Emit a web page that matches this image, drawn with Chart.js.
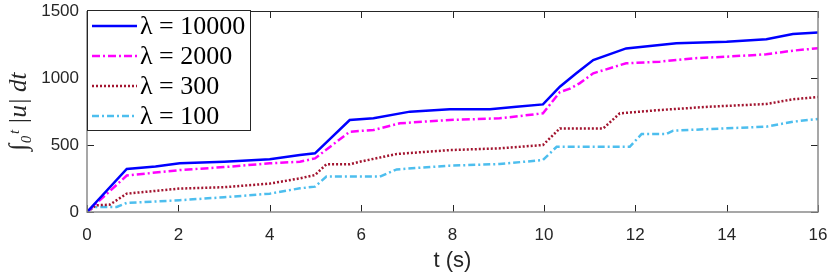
<!DOCTYPE html>
<html>
<head>
<meta charset="utf-8">
<script src="https://cdn.jsdelivr.net/npm/chart.js@4/dist/chart.umd.min.js"></script>
<style>
  html, body { margin: 0; padding: 0; background: #fff; }
  #wrap { width: 830px; height: 278px; }
</style>
</head>
<body>
<div id="wrap"><canvas id="grafico"></canvas></div>
<script>
// valores
const xTicks = [0, 2, 4, 6, 8, 10, 12, 14, 16];
const yTicks = [0, 500, 1000, 1500];
const etiquetas = ["\u03bb = 10000", "\u03bb = 2000", "\u03bb = 300", "\u03bb = 100"];

const t10000 = [0, 0.87, 1.5, 2.03, 3, 4, 4.66, 4.99, 5.75, 6.27, 7.07, 7.94, 8.82, 9.4, 9.98, 10.35, 10.71, 11.08, 11.8, 12.9, 14, 14.87, 15.45, 16];
const v10000 = [0, 321, 340, 363, 375, 393, 425, 438, 686, 699, 749, 766, 766, 786, 803, 935, 1035, 1134, 1221, 1259, 1271, 1289, 1328, 1340];

const t2000 = [0, 0.87, 2.03, 3, 4, 4.66, 4.99, 5.75, 6.27, 6.85, 7.94, 9.03, 9.98, 10.35, 10.57, 10.78, 11.08, 11.8, 12.54, 13.27, 14, 14.87, 15.45, 16];
const v2000 = [0, 272, 313, 335, 363, 375, 400, 599, 612, 662, 687, 699, 736, 895, 920, 960, 1035, 1110, 1122, 1147, 1159, 1177, 1204, 1222];

const t300 = [0, 0.2, 0.5, 0.87, 2.03, 3, 4, 4.66, 4.99, 5.24, 5.75, 5.97, 6.78, 7.94, 9.03, 9.98, 10.35, 11.3, 11.66, 12.54, 13.63, 14.87, 15.45, 16];
const v300 = [0, 50, 55, 137, 175, 185, 212, 251, 276, 356, 356, 375, 433, 462, 475, 500, 624, 624, 736, 761, 786, 806, 841, 858];

const t100 = [0, 0.15, 0.65, 0.87, 2.03, 3, 4, 4.66, 4.99, 5.24, 6.41, 6.78, 7.94, 9.03, 9.98, 10.28, 11.88, 12.14, 12.68, 12.83, 13.63, 14.87, 15.45, 16];
const v100 = [0, 38, 38, 68, 88, 110, 137, 177, 189, 264, 264, 318, 346, 358, 388, 487, 487, 582, 582, 607, 619, 637, 674, 694];

const puntos = (ts, vs) => ts.map((t, i) => ({ x: t, y: vs[i] }));

const series = [
  { label: etiquetas[0], data: puntos(t10000, v10000), borderColor: "#0000ff", borderWidth: 2.5, borderDash: [] },
  { label: etiquetas[1], data: puntos(t2000, v2000), borderColor: "#ff00ff", borderWidth: 2.5, borderDash: [8, 3, 2, 3] },
  { label: etiquetas[2], data: puntos(t300, v300), borderColor: "#a2142f", borderWidth: 2.5, borderDash: [2, 2] },
  { label: etiquetas[3], data: puntos(t100, v100), borderColor: "#4dbeee", borderWidth: 2.5, borderDash: [7, 3, 2, 3] },
].map((s) => ({ ...s, showLine: true, pointRadius: 0, tension: 0, fill: false }));

// caja, marcas hacia adentro y leyenda tipo MATLAB
const cajaMatlab = {
  id: "cajaMatlab",
  afterDatasetsDraw(chart) {
    const { ctx, chartArea: a, scales } = chart;
    ctx.save();
    ctx.strokeStyle = "#262626";
    ctx.lineWidth = 1;
    xTicks.forEach((v) => {
      const px = Math.round(scales.x.getPixelForValue(v)) + 0.5;
      ctx.beginPath();
      ctx.moveTo(px, a.bottom); ctx.lineTo(px, a.bottom - 7);
      ctx.moveTo(px, a.top); ctx.lineTo(px, a.top + 7);
      ctx.stroke();
    });
    yTicks.forEach((v) => {
      const py = Math.round(scales.y.getPixelForValue(v)) + 0.5;
      ctx.beginPath();
      ctx.moveTo(a.left, py); ctx.lineTo(a.left + 7, py);
      ctx.moveTo(a.right, py); ctx.lineTo(a.right - 7, py);
      ctx.stroke();
    });
    ctx.strokeStyle = "#262626";
    ctx.beginPath();
    ctx.moveTo(a.left, a.top + 0.5); ctx.lineTo(a.right, a.top + 0.5);
    ctx.stroke();
    ctx.strokeStyle = "#8a8a8a";
    ctx.lineWidth = 1.5;
    ctx.beginPath();
    ctx.moveTo(a.left, a.top); ctx.lineTo(a.left, a.bottom); ctx.lineTo(a.right, a.bottom); ctx.lineTo(a.right, a.top);
    ctx.stroke();

    // leyenda
    const lx = a.left, ly = a.top - 1, lw = 164, lh = 121;
    ctx.fillStyle = "#fff";
    ctx.fillRect(lx, ly, lw, lh);
    ctx.strokeStyle = "#262626";
    ctx.lineWidth = 1;
    ctx.strokeRect(lx + 0.5, ly + 0.5, lw - 1, lh - 1);
    ctx.font = "26px 'Liberation Serif', serif";
    ctx.textBaseline = "middle";
    chart.data.datasets.forEach((d, i) => {
      const y = ly + 16 + i * 30;
      ctx.strokeStyle = d.borderColor;
      ctx.lineWidth = 2.5;
      ctx.setLineDash(d.borderDash);
      ctx.beginPath();
      ctx.moveTo(lx + 5, y); ctx.lineTo(lx + 50, y);
      ctx.stroke();
      ctx.setLineDash([]);
      ctx.fillStyle = "#000";
      ctx.fillText(d.label, lx + 53, y + 1);
    });
    ctx.restore();
  },
};

new Chart(document.getElementById("grafico"), {
  type: "scatter",
  data: { datasets: series },
  options: {
    responsive: true,
    maintainAspectRatio: false,
    animation: false,
    layout: { padding: { top: 11, right: 12, left: 0, bottom: 0 } },
    plugins: { legend: { display: false }, tooltip: { enabled: false } },
    scales: {
      x: {
        type: "linear",
        min: 0,
        max: 16,
        afterBuildTicks: (s) => { s.ticks = xTicks.map((v) => ({ value: v })); },
        afterFit: (s) => { s.height = 66; s.paddingLeft = 0; s.paddingRight = 0; },
        grid: { display: false, drawTicks: false },
        border: { display: false },
        ticks: { padding: 13, color: "#262626", callback: (v) => String(v), font: { family: "'Liberation Sans Narrow', 'Liberation Sans', Arial", size: 17 } },
        title: { display: true, text: "t (s)", color: "#262626", padding: { top: 3 }, font: { family: "'Liberation Sans', Arial", size: 22 } },
      },
      y: {
        type: "linear",
        min: 0,
        max: 1500,
        afterBuildTicks: (s) => { s.ticks = yTicks.map((v) => ({ value: v })); },
        afterFit: (s) => { s.width = 87; s.paddingTop = 0; s.paddingBottom = 0; },
        grid: { display: false, drawTicks: false },
        border: { display: false },
        ticks: { padding: 8, color: "#262626", callback: (v) => String(v), font: { family: "'Liberation Sans Narrow', 'Liberation Sans', Arial", size: 17 } },
        title: { display: true, text: "\u222b\u2080\u1d57 |u| dt", color: "#262626", padding: { bottom: 0 }, font: { family: "'Liberation Serif', serif", size: 25, style: "italic" } },
      },
    },
  },
  plugins: [cajaMatlab],
});
</script>
</body>
</html>
